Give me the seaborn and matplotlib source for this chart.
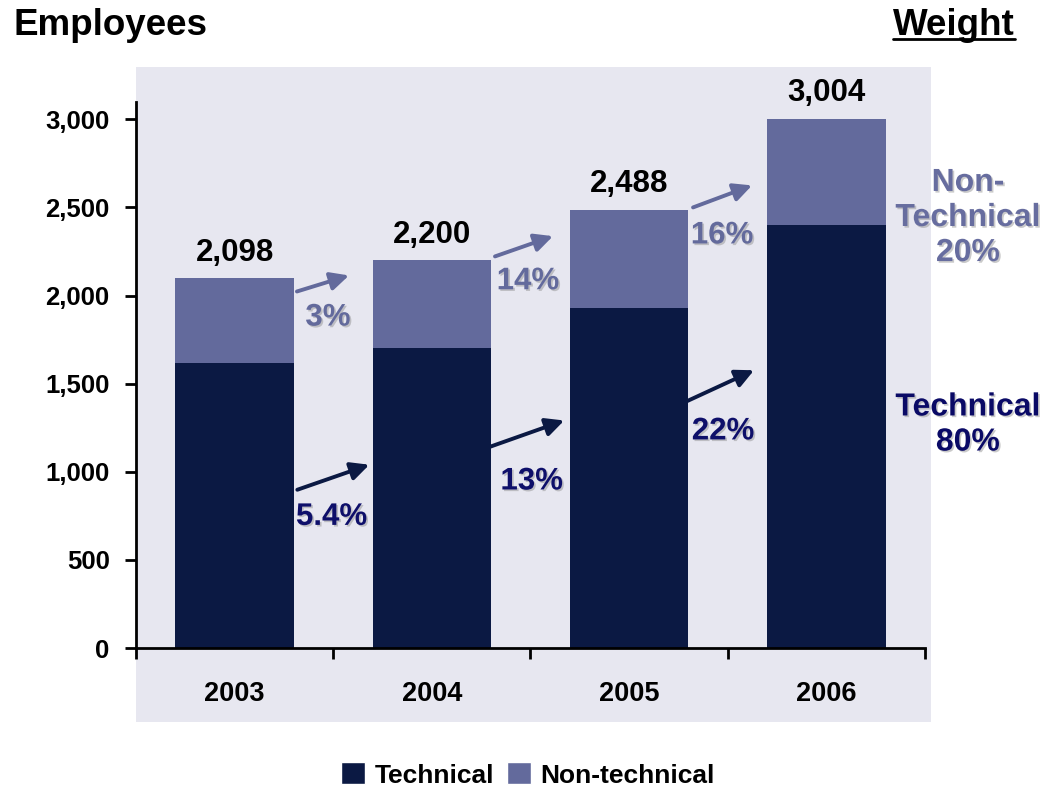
import matplotlib
matplotlib.use("Agg")
import matplotlib.pyplot as plt
import matplotlib.patheffects as pe
from matplotlib.lines import Line2D
from matplotlib.patches import Patch, Rectangle
from matplotlib.ticker import FuncFormatter, MultipleLocator
import numpy as np
import pandas as pd
import seaborn as sns

# ---- data -------------------------------------------------------------
years = ["2003", "2004", "2005", "2006"]
total_staff = [2098, 2200, 2488, 3004]
technical_staff = [1615, 1700, 1930, 2400]
technical_growth = ["5.4%", "13%", "22%"]
non_technical_growth = ["3%", "14%", "16%"]
series_names = ["Technical", "Non-technical"]

# ---- annotation layout (data coordinates) ----------------------------
tech_arrows = [((0.318, 898), (0.683, 1040)),
               ((1.295, 1142), (1.671, 1291)),
               ((2.288, 1398), (2.633, 1576))]
tech_label_xy = [(0.492, 744), (1.506, 945), (2.476, 1229)]
non_arrows = [((0.316, 2023), (0.580, 2114)),
              ((1.320, 2222), (1.614, 2337)),
              ((2.324, 2500), (2.623, 2625))]
non_label_xy = [(0.473, 1875), (1.487, 2081), (2.471, 2341)]

DARK = "#0B1943"
LIGHT = "#636A9C"
PANEL = "#E7E7F0"
TECH_TXT = "#0E0F6A"
NON_TXT = "#676D9F"

df = pd.DataFrame({"year": years, "total": total_staff,
                   "technical": technical_staff})

sns.set_style("ticks")
plt.rcParams["font.family"] = ["Liberation Sans", "DejaVu Sans"]
plt.rcParams["font.weight"] = "bold"

fig = plt.figure(figsize=(10.45, 7.87), dpi=100)

# shaded panel behind the plot and the year labels
fig.patches.append(Rectangle((0.1301, 0.0830), 0.7608, 0.8322,
                             transform=fig.transFigure, facecolor=PANEL,
                             edgecolor="none", zorder=-1))

ax = fig.add_axes([0.1301, 0.1766, 0.7551, 0.6942])
ax.set_facecolor("none")

# stacked bars: full total in the light colour, technical part over it
sns.barplot(data=df, x="year", y="total", color=LIGHT, width=0.6,
            saturation=1, ax=ax, linewidth=0)
sns.barplot(data=df, x="year", y="technical", color=DARK, width=0.6,
            saturation=1, ax=ax, linewidth=0)

ax.set_xlim(-0.5, 3.5)
ax.set_ylim(0, 3100)
ax.set_xlabel("")
ax.set_ylabel("")
ax.yaxis.set_major_locator(MultipleLocator(500))
ax.yaxis.set_major_formatter(FuncFormatter(lambda v, p: f"{v:,.0f}"))

sns.despine(ax=ax)
for side in ("left", "bottom"):
    ax.spines[side].set_linewidth(2.0)
    ax.spines[side].set_color("black")

ax.tick_params(axis="y", length=8, width=2, pad=11, labelsize=18.5,
               colors="black", labelcolor="black")
ax.set_xticks([-0.5, 0.5, 1.5, 2.5, 3.5])
ax.set_xticklabels([])
ax.set_xticks(range(len(years)), minor=True)
ax.set_xticklabels(years, minor=True)
ax.tick_params(axis="x", which="major", length=8, width=2, colors="black")
ax.tick_params(axis="x", which="minor", length=0, pad=24, labelsize=19.5,
               labelcolor="black")

# totals above each bar
for i, t in enumerate(total_staff):
    ax.annotate(f"{t:,}", (i, t), xytext=(0, 12.5),
                textcoords="offset points", ha="center", va="baseline",
                fontsize=22.5, fontweight="bold", color="black")

shadow = [pe.withSimplePatchShadow(offset=(1.2, -1.2),
                                   shadow_rgbFace="#8a8a8a", alpha=0.45)]


def growth_arrows(arrows, labels, label_xy, color):
    for (tail, tip), lab, xy in zip(arrows, labels, label_xy):
        ax.annotate("", xy=tip, xytext=tail,
                    arrowprops=dict(arrowstyle="-|>,head_length=0.55,head_width=0.27",
                                    lw=2.8, color=color, shrinkA=0, shrinkB=0,
                                    mutation_scale=20),
                    annotation_clip=False)
        ax.text(xy[0], xy[1], lab, ha="center", va="center", fontsize=22.5,
                fontweight="bold", color=color if color != DARK else TECH_TXT,
                path_effects=shadow)


growth_arrows(tech_arrows, technical_growth, tech_label_xy, DARK)
growth_arrows(non_arrows, non_technical_growth, non_label_xy, LIGHT)

# weight of each group in the last year
last_total = total_staff[-1]
tech_share = round(100 * technical_staff[-1] / last_total)
non_share = round(100 * (last_total - technical_staff[-1]) / last_total)

fig.text(968 / 1045, 1 - 218 / 787, f"Non-\nTechnical\n{non_share}%",
         ha="center", va="center", fontsize=23, fontweight="bold",
         color=NON_TXT, linespacing=1.22, path_effects=shadow)
fig.text(968 / 1045, 1 - 425 / 787, f"Technical\n{tech_share}%",
         ha="center", va="center", fontsize=23, fontweight="bold",
         color="#0A0A66", linespacing=1.22, path_effects=shadow)

# headings
fig.text(13 / 1045, 1 - 35 / 787, "Employees", ha="left", va="baseline",
         fontsize=26.5, fontweight="bold", color="black")
weight_txt = fig.text(1015 / 1045, 1 - 35 / 787, "Weight", ha="right",
                      va="baseline", fontsize=26.5, fontweight="bold",
                      color="black")
renderer = fig.canvas.get_renderer()
bb = weight_txt.get_window_extent(renderer).transformed(fig.transFigure.inverted())
y_line = 1 - 39 / 787
fig.lines.append(Line2D([bb.x0, bb.x1], [y_line, y_line],
                        transform=fig.transFigure, color="black", lw=2))

# legend
handles = [Patch(facecolor=DARK, label=series_names[0]),
           Patch(facecolor=LIGHT, label=series_names[1])]
fig.legend(handles=handles, loc="center", bbox_to_anchor=(528 / 1045, 1 - 775 / 787),
           ncol=2, frameon=False, prop={"weight": "bold", "size": 19},
           handlelength=0.9, handleheight=0.9, handletextpad=0.35,
           columnspacing=0.5, labelcolor="black")

fig.savefig("out.png", dpi=100)
